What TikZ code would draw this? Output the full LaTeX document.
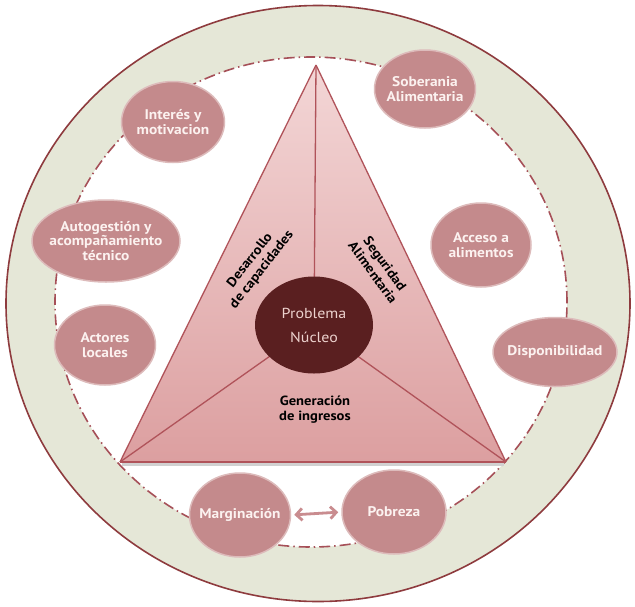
\documentclass[tikz,border=0pt]{standalone}
\usepackage{fontspec}
\setmainfont{PT Sans}[FakeStretch=1.1]
\usetikzlibrary{arrows.meta,shapes.geometric}
\definecolor{ringc}{HTML}{E5E7D7}
\definecolor{outerc}{HTML}{8E3B3E}
\definecolor{dashc}{HTML}{A65058}
\definecolor{nodec}{HTML}{C48A8C}
\definecolor{haloc}{HTML}{DDBBBB}
\definecolor{ntext}{HTML}{FCF2F0}
\definecolor{triT}{HTML}{F3D6D6}
\definecolor{triB}{HTML}{DC9FA0}
\definecolor{trid}{HTML}{B0535A}
\definecolor{corec}{HTML}{5A1F20}
\definecolor{coretext}{HTML}{EDD2CE}
\definecolor{arrowc}{HTML}{C98C8F}
\tikzset{
  bubble/.style={ellipse, fill=nodec, draw=haloc, line width=1.5pt,
    inner xsep=-30pt, inner ysep=-20pt,
    text=ntext, align=center, font=\fontsize{14}{14.5}\selectfont\bfseries},
  lbl/.style={align=center, text=black, font=\fontsize{13.3}{15}\selectfont\bfseries, inner sep=0pt},
  triline/.style={draw=trid, line width=1.3pt},
  dashring/.style={draw=dashc, line width=1.6pt, dash pattern=on 11pt off 4pt on 1.5pt off 4pt},
}
\begin{document}
\begin{tikzpicture}[x=1pt,y=-1pt]
\useasboundingbox (0,0) rectangle (635,606);
% rings
\fill[ringc] (318,303.5) ellipse [x radius=312pt, y radius=298pt];
\fill[white] (311,302) ellipse [x radius=256pt, y radius=245pt];
\draw[dashring] (311,302) ellipse [x radius=256pt, y radius=245pt];
\draw[outerc, line width=1.6pt] (318,303.5) ellipse [x radius=312pt, y radius=298pt];
% triangle
\coordinate (apex) at (316,65);
\coordinate (bl) at (120,462);
\coordinate (br) at (506,462);
\coordinate (c) at (314,325);
\fill[black!18] (122,462) -- (504,462) -- (504,466) -- (122,466) -- cycle;
\shade[top color=triT, bottom color=triB] (apex) -- (bl) -- (br) -- cycle;
\draw[triline] (apex) -- (bl);
\draw[triline] (apex) -- (br);
\draw[draw=trid, line width=2.6pt] (bl) -- (br);
\draw[triline] (apex) -- (c);
\draw[triline] (bl) -- (c);
\draw[triline] (br) -- (c);
\node[ellipse, fill=corec, minimum width=118pt, minimum height=97pt, inner sep=-20pt,
  text=coretext, align=center, font=\fontsize{14.5}{24}\selectfont] (core) at (c) {Problema\\Núcleo};
% labels in triangle
\node[lbl, rotate=52] (dc) at (256,265) {Desarrollo\\de capacidades};
\node[lbl, rotate=-54] (sa) at (379,268) {Seguridad\\Alimentaria};
\node[lbl] (gi) at (315,410) {Generación\\de ingresos};
% bubbles
\node[bubble, minimum width=101pt, minimum height=78pt] (sob) at (425,89) {Soberania\\Alimentaria};
\node[bubble, minimum width=103pt, minimum height=81pt] (int) at (173,122) {Interés y\\motivacion};
\node[bubble, minimum width=148pt, minimum height=82pt] (aut) at (106,241) {Autogestión y\\acompañamiento\\técnico};
\node[bubble, minimum width=101pt, minimum height=80pt] (act) at (105,345) {Actores\\locales};
\node[bubble, minimum width=100pt, minimum height=84pt] (acc) at (481,245) {Acceso a\\alimentos};
\node[bubble, minimum width=124pt, minimum height=69pt] (dis) at (555,352) {Disponibilidad};
\node[bubble, minimum width=101pt, minimum height=84pt] (mar) at (240,515) {Marginación};
\node[bubble, minimum width=104pt, minimum height=84pt] (pob) at (394,512) {Pobreza};
\draw[arrowc, line width=2.8pt, shorten <=3pt, shorten >=3pt,
  {Straight Barb[length=6pt,width=12pt]}-{Straight Barb[length=6pt,width=12pt]}]
  (mar.east) -- (pob.west);
\end{tikzpicture}
\end{document}
